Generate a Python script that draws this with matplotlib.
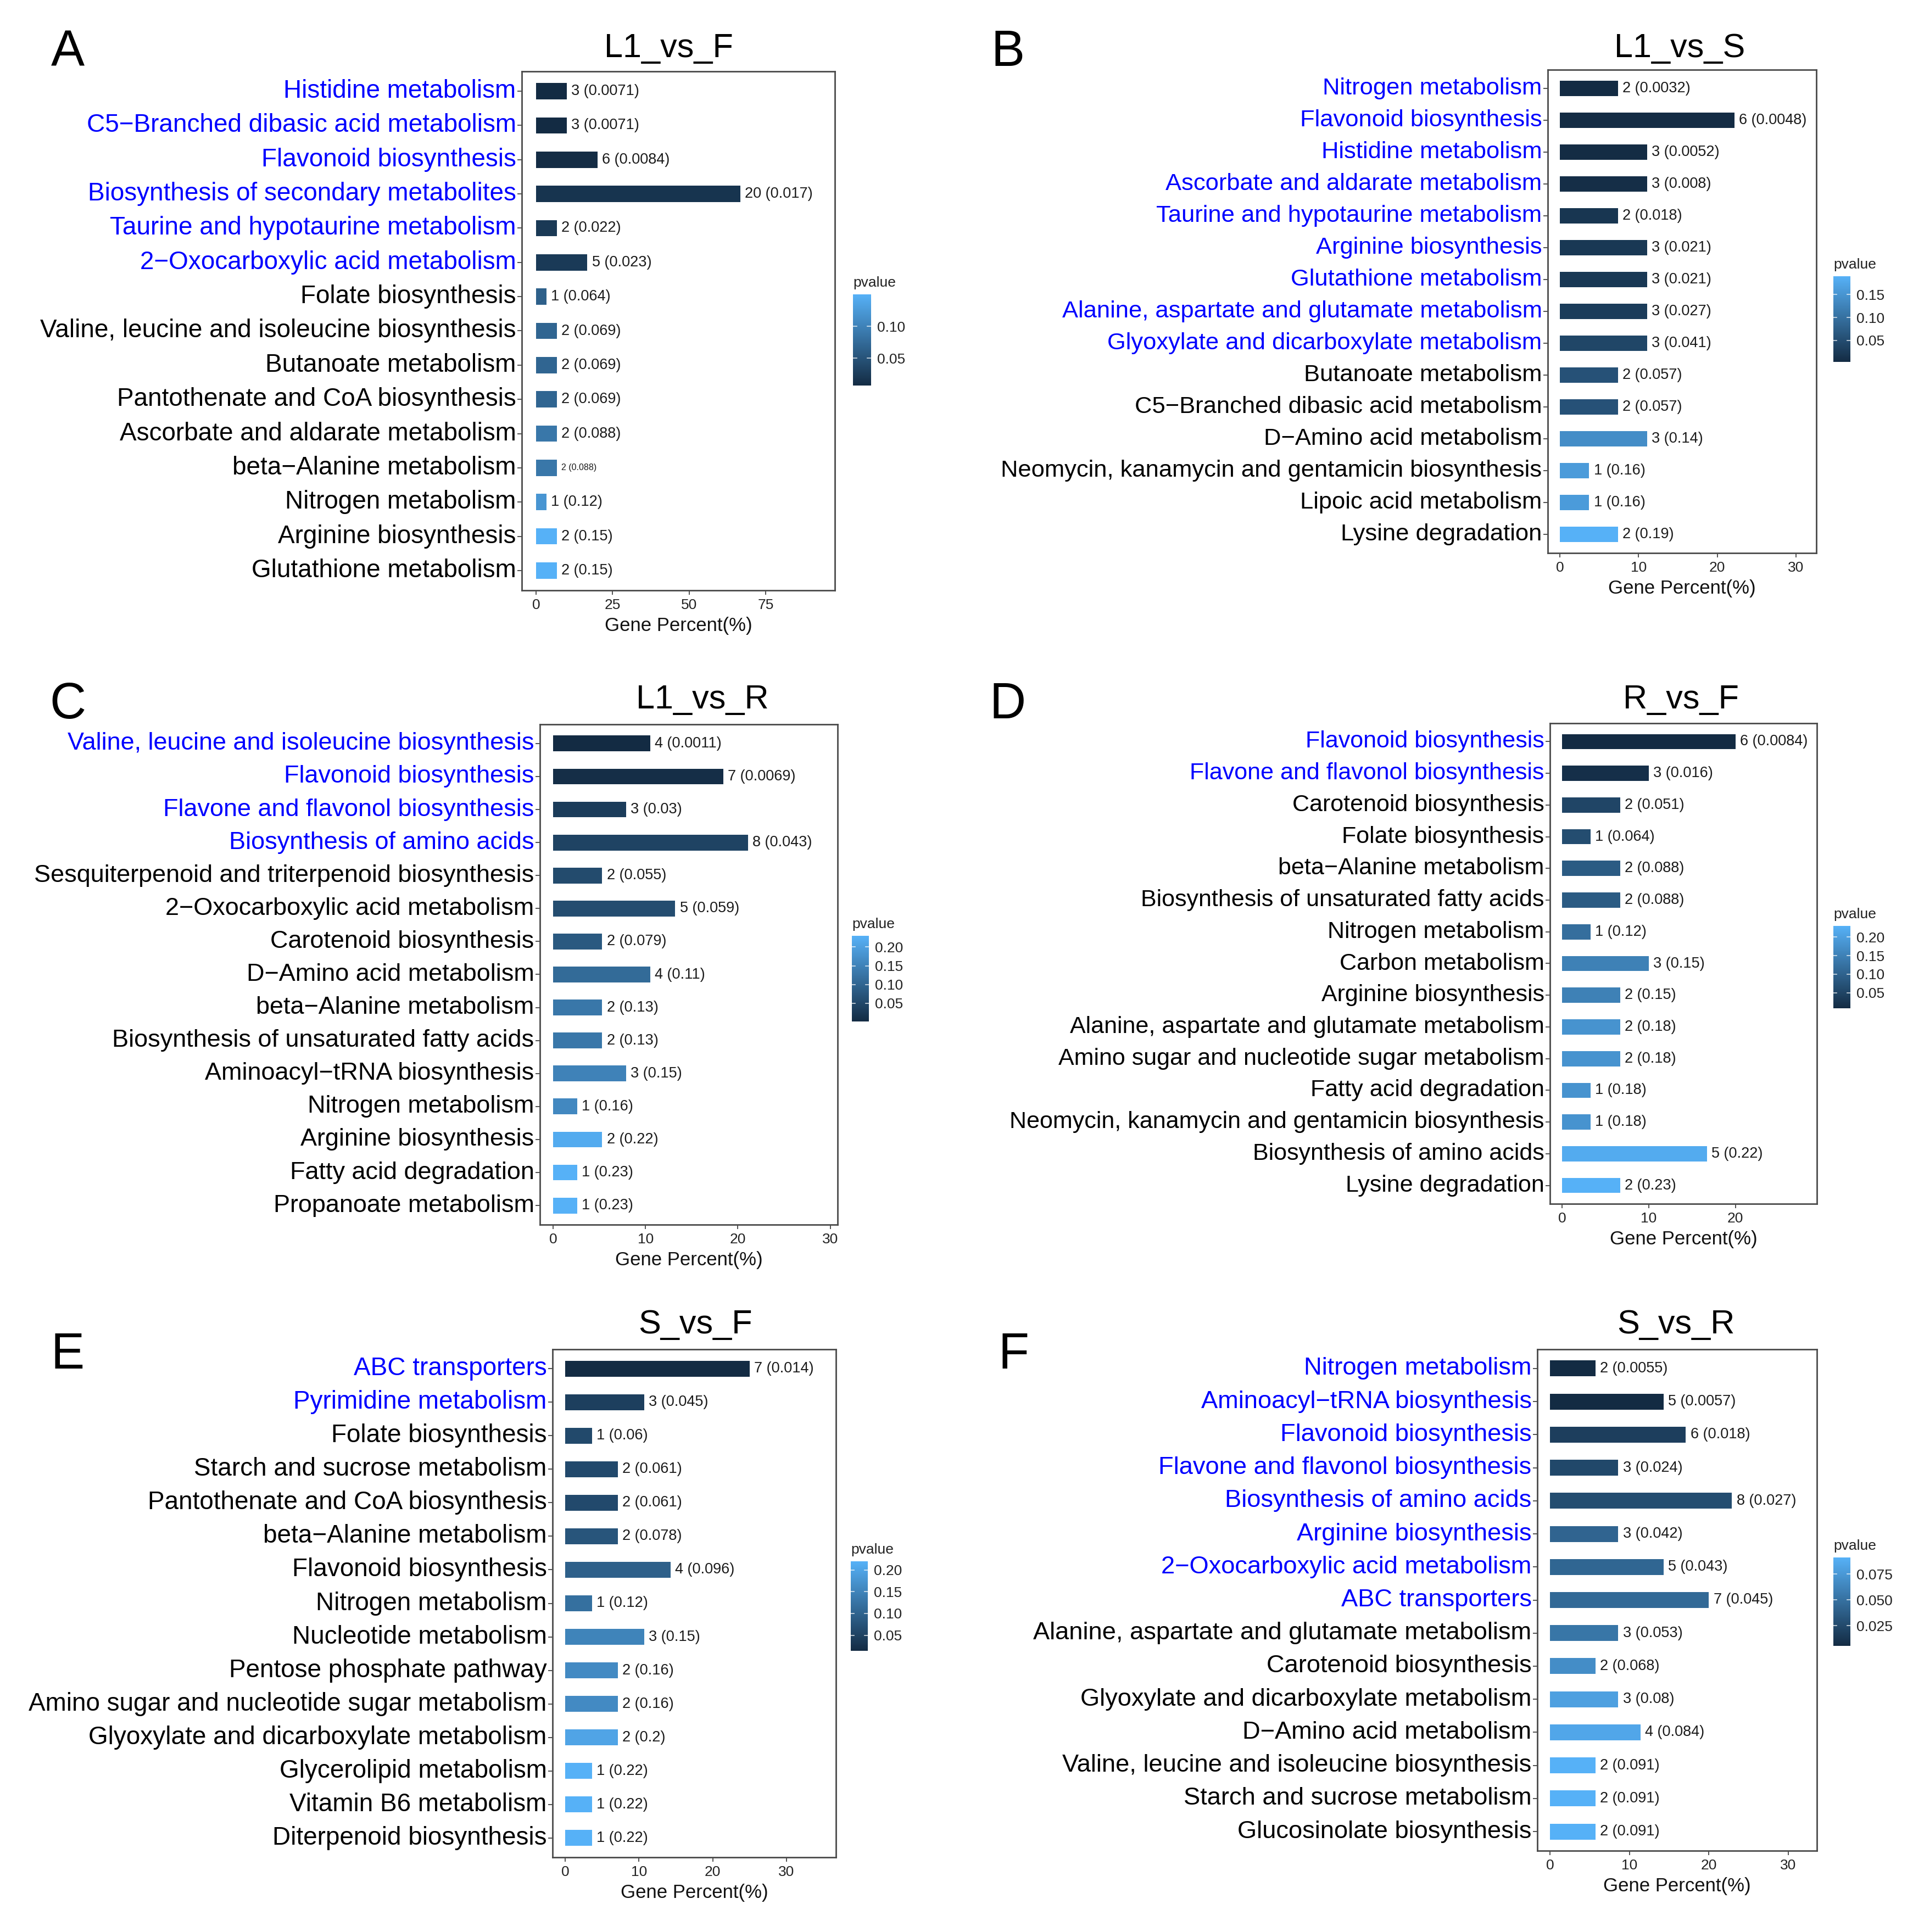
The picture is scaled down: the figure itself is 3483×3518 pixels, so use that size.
import numpy as np
import matplotlib
matplotlib.use("Agg")
import matplotlib.pyplot as plt
from matplotlib.colors import LinearSegmentedColormap, Normalize
import matplotlib.colorbar as mcolorbar

plt.rcParams['font.family'] = ['Liberation Sans', 'DejaVu Sans']

M = "\u2212"

# ---------------- data ----------------
A_title = "L1_vs_F"
A_terms = ["Histidine metabolism", f"C5{M}Branched dibasic acid metabolism", "Flavonoid biosynthesis",
           "Biosynthesis of secondary metabolites", "Taurine and hypotaurine metabolism",
           f"2{M}Oxocarboxylic acid metabolism", "Folate biosynthesis",
           "Valine, leucine and isoleucine biosynthesis", "Butanoate metabolism",
           "Pantothenate and CoA biosynthesis", "Ascorbate and aldarate metabolism",
           f"beta{M}Alanine metabolism", "Nitrogen metabolism", "Arginine biosynthesis",
           "Glutathione metabolism"]
A_genes = [3, 3, 6, 20, 2, 5, 1, 2, 2, 2, 2, 2, 1, 2, 2]
A_percent = [10.0, 10.0, 20.0, 66.7, 6.7, 16.7, 3.3, 6.7, 6.7, 6.7, 6.7, 6.7, 3.3, 6.7, 6.7]
A_pvalue = [0.0071, 0.0071, 0.0084, 0.017, 0.022, 0.023, 0.064, 0.069, 0.069, 0.069, 0.088, 0.088, 0.12, 0.15, 0.15]
A_xticks = [0, 25, 50, 75]
A_cticks = [0.05, 0.10]

B_title = "L1_vs_S"
B_terms = ["Nitrogen metabolism", "Flavonoid biosynthesis", "Histidine metabolism",
           "Ascorbate and aldarate metabolism", "Taurine and hypotaurine metabolism",
           "Arginine biosynthesis", "Glutathione metabolism",
           "Alanine, aspartate and glutamate metabolism", "Glyoxylate and dicarboxylate metabolism",
           "Butanoate metabolism", f"C5{M}Branched dibasic acid metabolism",
           f"D{M}Amino acid metabolism", "Neomycin, kanamycin and gentamicin biosynthesis",
           "Lipoic acid metabolism", "Lysine degradation"]
B_genes = [2, 6, 3, 3, 2, 3, 3, 3, 3, 2, 2, 3, 1, 1, 2]
B_percent = [7.4, 22.2, 11.1, 11.1, 7.4, 11.1, 11.1, 11.1, 11.1, 7.4, 7.4, 11.1, 3.7, 3.7, 7.4]
B_pvalue = [0.0032, 0.0048, 0.0052, 0.008, 0.018, 0.021, 0.021, 0.027, 0.041, 0.057, 0.057, 0.14, 0.16, 0.16, 0.19]
B_xticks = [0, 10, 20, 30]
B_cticks = [0.05, 0.10, 0.15]

C_title = "L1_vs_R"
C_terms = ["Valine, leucine and isoleucine biosynthesis", "Flavonoid biosynthesis",
           "Flavone and flavonol biosynthesis", "Biosynthesis of amino acids",
           "Sesquiterpenoid and triterpenoid biosynthesis", f"2{M}Oxocarboxylic acid metabolism",
           "Carotenoid biosynthesis", f"D{M}Amino acid metabolism", f"beta{M}Alanine metabolism",
           "Biosynthesis of unsaturated fatty acids", f"Aminoacyl{M}tRNA biosynthesis",
           "Nitrogen metabolism", "Arginine biosynthesis", "Fatty acid degradation",
           "Propanoate metabolism"]
C_genes = [4, 7, 3, 8, 2, 5, 2, 4, 2, 2, 3, 1, 2, 1, 1]
C_percent = [10.5, 18.4, 7.9, 21.1, 5.3, 13.2, 5.3, 10.5, 5.3, 5.3, 7.9, 2.6, 5.3, 2.6, 2.6]
C_pvalue = [0.0011, 0.0069, 0.03, 0.043, 0.055, 0.059, 0.079, 0.11, 0.13, 0.13, 0.15, 0.16, 0.22, 0.23, 0.23]
C_xticks = [0, 10, 20, 30]
C_cticks = [0.05, 0.10, 0.15, 0.20]

D_title = "R_vs_F"
D_terms = ["Flavonoid biosynthesis", "Flavone and flavonol biosynthesis", "Carotenoid biosynthesis",
           "Folate biosynthesis", f"beta{M}Alanine metabolism",
           "Biosynthesis of unsaturated fatty acids", "Nitrogen metabolism", "Carbon metabolism",
           "Arginine biosynthesis", "Alanine, aspartate and glutamate metabolism",
           "Amino sugar and nucleotide sugar metabolism", "Fatty acid degradation",
           "Neomycin, kanamycin and gentamicin biosynthesis", "Biosynthesis of amino acids",
           "Lysine degradation"]
D_genes = [6, 3, 2, 1, 2, 2, 1, 3, 2, 2, 2, 1, 1, 5, 2]
D_percent = [20.0, 10.0, 6.7, 3.3, 6.7, 6.7, 3.3, 10.0, 6.7, 6.7, 6.7, 3.3, 3.3, 16.7, 6.7]
D_pvalue = [0.0084, 0.016, 0.051, 0.064, 0.088, 0.088, 0.12, 0.15, 0.15, 0.18, 0.18, 0.18, 0.18, 0.22, 0.23]
D_xticks = [0, 10, 20]
D_cticks = [0.05, 0.10, 0.15, 0.20]

E_title = "S_vs_F"
E_terms = ["ABC transporters", "Pyrimidine metabolism", "Folate biosynthesis",
           "Starch and sucrose metabolism", "Pantothenate and CoA biosynthesis",
           f"beta{M}Alanine metabolism", "Flavonoid biosynthesis", "Nitrogen metabolism",
           "Nucleotide metabolism", "Pentose phosphate pathway",
           "Amino sugar and nucleotide sugar metabolism", "Glyoxylate and dicarboxylate metabolism",
           "Glycerolipid metabolism", "Vitamin B6 metabolism", "Diterpenoid biosynthesis"]
E_genes = [7, 3, 1, 2, 2, 2, 4, 1, 3, 2, 2, 2, 1, 1, 1]
E_percent = [25.0, 10.7, 3.6, 7.1, 7.1, 7.1, 14.3, 3.6, 10.7, 7.1, 7.1, 7.1, 3.6, 3.6, 3.6]
E_pvalue = [0.014, 0.045, 0.06, 0.061, 0.061, 0.078, 0.096, 0.12, 0.15, 0.16, 0.16, 0.2, 0.22, 0.22, 0.22]
E_xticks = [0, 10, 20, 30]
E_cticks = [0.05, 0.10, 0.15, 0.20]

F_title = "S_vs_R"
F_terms = ["Nitrogen metabolism", f"Aminoacyl{M}tRNA biosynthesis", "Flavonoid biosynthesis",
           "Flavone and flavonol biosynthesis", "Biosynthesis of amino acids",
           "Arginine biosynthesis", f"2{M}Oxocarboxylic acid metabolism", "ABC transporters",
           "Alanine, aspartate and glutamate metabolism", "Carotenoid biosynthesis",
           "Glyoxylate and dicarboxylate metabolism", f"D{M}Amino acid metabolism",
           "Valine, leucine and isoleucine biosynthesis", "Starch and sucrose metabolism",
           "Glucosinolate biosynthesis"]
F_genes = [2, 5, 6, 3, 8, 3, 5, 7, 3, 2, 3, 4, 2, 2, 2]
F_percent = [5.7, 14.3, 17.1, 8.6, 22.9, 8.6, 14.3, 20.0, 8.6, 5.7, 8.6, 11.4, 5.7, 5.7, 5.7]
F_pvalue = [0.0055, 0.0057, 0.018, 0.024, 0.027, 0.042, 0.043, 0.045, 0.053, 0.068, 0.08, 0.084, 0.091, 0.091, 0.091]
F_xticks = [0, 10, 20, 30]
F_cticks = [0.025, 0.050, 0.075]

# ---------------- layout (pixel coordinates) ----------------
W, H = 3483, 3518
DPI = 100

panels = [
    dict(letter="A", title=A_title, terms=A_terms, genes=A_genes, pct=A_percent, p=A_pvalue,
         xticks=A_xticks, cticks=A_cticks, cfmt="{:.2f}", xlim=(-4.7, 97.6), lfs=33,
         box=(950, 130, 1520, 1075), cbar=(1553, 536, 1586, 702),
         title_xy=(1217, 104), letter_xy=(123, 96), small={11}),
    dict(letter="B", title=B_title, terms=B_terms, genes=B_genes, pct=B_percent, p=B_pvalue,
         xticks=B_xticks, cticks=B_cticks, cfmt="{:.2f}", xlim=(-1.55, 32.6), lfs=31.3,
         box=(2818, 127, 3307, 1007), cbar=(3338, 503, 3369, 659),
         title_xy=(3058, 104), letter_xy=(1835, 96), small=set()),
    dict(letter="C", title=C_title, terms=C_terms, genes=C_genes, pct=C_percent, p=C_pvalue,
         xticks=C_xticks, cticks=C_cticks, cfmt="{:.2f}", xlim=(-1.45, 30.8), lfs=32.4,
         box=(983, 1319, 1525, 2230), cbar=(1551, 1704, 1582, 1860),
         title_xy=(1279, 1290), letter_xy=(123, 1284), small=set()),
    dict(letter="D", title=D_title, terms=D_terms, genes=D_genes, pct=D_percent, p=D_pvalue,
         xticks=D_xticks, cticks=D_cticks, cfmt="{:.2f}", xlim=(-1.4, 29.4), lfs=31,
         box=(2822, 1317, 3308, 2192), cbar=(3338, 1686, 3369, 1836),
         title_xy=(3060, 1290), letter_xy=(1835, 1284), small=set()),
    dict(letter="E", title=E_title, terms=E_terms, genes=E_genes, pct=E_percent, p=E_pvalue,
         xticks=E_xticks, cticks=E_cticks, cfmt="{:.2f}", xlim=(-1.75, 36.75), lfs=33,
         box=(1006, 2457, 1522, 3382), cbar=(1549, 2843, 1580, 3006),
         title_xy=(1266, 2428), letter_xy=(123, 2468), small=set()),
    dict(letter="F", title=F_title, terms=F_terms, genes=F_genes, pct=F_percent, p=F_pvalue,
         xticks=F_xticks, cticks=F_cticks, cfmt="{:.3f}", xlim=(-1.6, 33.6), lfs=32.6,
         box=(2799, 2457, 3308, 3370), cbar=(3338, 2836, 3369, 2997),
         title_xy=(3051, 2428), letter_xy=(1846, 2468), small=set()),
]

cmap = LinearSegmentedColormap.from_list("gg", ["#132B43", "#56B1F7"])

fig = plt.figure(figsize=(W / DPI, H / DPI), dpi=DPI)
fig.patch.set_facecolor("white")


def fx(x):
    return x / W


def fy(y):
    return 1 - y / H


for P in panels:
    x0, y0, x1, y1 = P["box"]
    ax = fig.add_axes([fx(x0), fy(y1), (x1 - x0) / W, (y1 - y0) / H])
    n = len(P["terms"])
    ypos = np.arange(n, 0, -1)
    norm = Normalize(min(P["p"]), max(P["p"]))
    colors = [cmap(norm(v)) for v in P["p"]]
    ax.barh(ypos, P["pct"], height=0.48, color=colors, edgecolor="none")
    ax.set_xlim(P["xlim"])
    ax.set_ylim(0.42, n + 0.58)
    ax.set_yticks(ypos)
    ax.set_yticklabels(P["terms"], fontsize=P["lfs"])
    for lab, v in zip(ax.get_yticklabels(), P["p"]):
        lab.set_color("#0000FF" if v < 0.05 else "black")
        lab.set_va("center")
    ax.set_xticks(P["xticks"])
    ax.set_xticklabels([str(t) for t in P["xticks"]], fontsize=19, color="#222222")
    ax.tick_params(axis="y", length=6, width=1.3, color="#444444", pad=1.5)
    ax.tick_params(axis="x", length=6, width=1.3, color="#444444", pad=5)
    for sp in ax.spines.values():
        sp.set_color("#4a4a4a")
        sp.set_linewidth(2.0)
    ax.set_xlabel("Gene Percent(%)", fontsize=25, labelpad=6, color="#111111")
    for i, (yy, v, g, pv) in enumerate(zip(ypos, P["pct"], P["genes"], P["p"])):
        fs = 11.5 if i in P["small"] else 19.5
        ax.annotate(f"{g} ({pv})", (v, yy), xytext=(6, 0), textcoords="offset points",
                    va="center", ha="left", fontsize=fs, color="#1a1a1a")

    # title and panel letter
    tx, ty = P["title_xy"]
    fig.text(fx(tx), fy(ty), P["title"], fontsize=44, ha="center", va="baseline", color="black")
    lx, ly = P["letter_xy"]
    fig.text(fx(lx), fy(ly), P["letter"], fontsize=66, ha="center", va="center", color="black")

    # colour bar
    cx0, cy0, cx1, cy1 = P["cbar"]
    cax = fig.add_axes([fx(cx0), fy(cy1), (cx1 - cx0) / W, (cy1 - cy0) / H])
    cb = mcolorbar.ColorbarBase(cax, cmap=cmap, norm=norm, orientation="vertical")
    cb.outline.set_visible(False)
    cb.set_ticks(P["cticks"])
    cb.set_ticklabels([P["cfmt"].format(t) for t in P["cticks"]])
    cax.tick_params(length=0, pad=8, labelsize=19, labelcolor="#222222")
    for t in P["cticks"]:
        cax.plot([0, 0.2], [t, t], color="white", lw=1.2, alpha=0.8)
        cax.plot([0.8, 1.0], [t, t], color="white", lw=1.2, alpha=0.8)
    fig.text(fx(cx0), fy(cy0 - 14), "pvalue", fontsize=19, ha="left", va="baseline", color="#222222")

fig.savefig("out.png", dpi=DPI, facecolor="white")
